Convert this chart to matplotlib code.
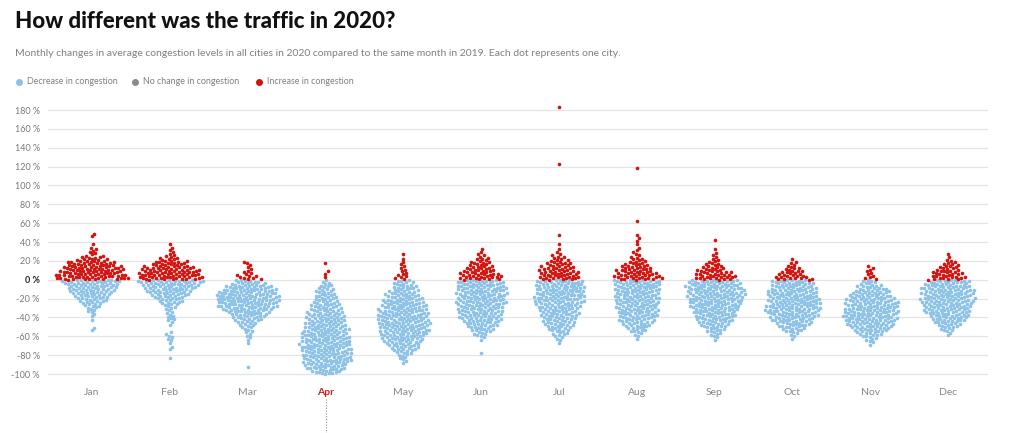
import numpy as np
import matplotlib.pyplot as plt
from matplotlib.lines import Line2D

# month labels
months = ["Jan", "Feb", "Mar", "Apr", "May", "Jun", "Jul", "Aug", "Sep", "Oct", "Nov", "Dec"]

# number of cities per 5 % bin, bins start at -100 % (index 0 = [-100, -95), index 20 = [0, 5))
bin_low = np.arange(-100, 50, 5)
jan = [0, 0, 0, 0, 0, 0, 0, 0, 0, 2, 0, 1, 2, 4, 7, 11, 14, 18, 20, 23, 29, 27, 25, 20, 11, 4, 3, 1, 0, 2]
feb = [0, 0, 0, 1, 0, 2, 1, 3, 3, 0, 1, 4, 4, 3, 6, 10, 14, 18, 22, 25, 26, 25, 21, 15, 8, 3, 2, 1, 0, 0]
mar = [0, 1, 0, 0, 0, 0, 1, 2, 3, 4, 7, 11, 15, 20, 24, 26, 26, 24, 20, 12, 8, 4, 2, 3, 0, 0, 0, 0, 0, 0]
apr = [13, 17, 19, 20, 20, 21, 21, 20, 19, 18, 17, 16, 15, 13, 12, 10, 9, 8, 6, 4, 1, 2, 0, 1, 0, 0, 0, 0, 0, 0]
may = [0, 0, 2, 4, 7, 11, 14, 17, 19, 20, 21, 21, 21, 20, 19, 17, 14, 12, 10, 8, 5, 3, 3, 2, 1, 1, 0, 0, 0, 0]
jun = [0, 0, 0, 0, 1, 0, 0, 2, 6, 10, 13, 16, 17, 18, 19, 20, 20, 20, 20, 19, 17, 15, 11, 9, 5, 3, 1, 0, 0, 0]
jul = [0, 0, 0, 0, 0, 0, 1, 3, 6, 9, 12, 13, 15, 16, 18, 19, 20, 20, 20, 19, 17, 16, 13, 10, 6, 3, 1, 1, 0, 1]
aug = [0, 0, 0, 0, 0, 0, 0, 1, 4, 8, 12, 14, 16, 17, 17, 18, 18, 18, 19, 19, 19, 16, 13, 9, 5, 3, 2, 1, 2, 1]
sep = [0, 0, 0, 0, 0, 0, 0, 2, 5, 8, 12, 15, 17, 19, 21, 22, 23, 23, 23, 21, 17, 14, 10, 6, 3, 2, 1, 0, 1, 0]
oct_ = [0, 0, 0, 0, 0, 0, 0, 1, 4, 9, 14, 17, 20, 22, 22, 22, 21, 20, 18, 17, 14, 10, 6, 3, 1, 0, 0, 0, 0, 0]
nov = [0, 0, 0, 0, 0, 0, 2, 5, 10, 15, 19, 21, 22, 22, 21, 20, 18, 15, 11, 7, 4, 3, 3, 0, 0, 0, 0, 0, 0, 0]
dec = [0, 0, 0, 0, 0, 0, 0, 0, 2, 6, 10, 14, 17, 19, 20, 21, 21, 21, 20, 18, 14, 12, 9, 6, 2, 1, 0, 0, 0, 0]
month_counts = [jan, feb, mar, apr, may, jun, jul, aug, sep, oct_, nov, dec]

# single cities far above the rest
outlier_month = [6, 6, 7, 7]
outlier_value = [123, 183, 62, 119]

yticks = list(range(-100, 181, 20))

BLUE = "#8cc2e8"
RED = "#d2140f"
GREY = "#8a8a8a"
FONT = ["Lato", "DejaVu Sans"]

# pixel scales of the plot area and the dot spacing of the swarm
PX_MONTH = 77.8
PX_PCT = 0.943
DOT = 3.4


def swarm(vals, d):
    # place dots in value order at the free x closest to the centre line
    yv = np.asarray(vals, float) * PX_PCT
    out = np.zeros(len(yv))
    px, py = [], []
    for idx in np.argsort(yv, kind="stable"):
        y = yv[idx]
        x = 0.0
        if px:
            ax_ = np.array(px)
            ay_ = np.array(py)
            near = np.abs(ay_ - y) < d
            nx, dy = ax_[near], y - ay_[near]
            if len(nx):
                off = np.sqrt(d * d - dy * dy)
                cands = np.concatenate([[0.0], nx + off, nx - off])
                cands = cands[np.argsort(np.abs(cands), kind="stable")]
                d2 = (cands[:, None] - nx[None, :]) ** 2 + dy[None, :] ** 2
                ok = np.all(d2 >= d * d - 1e-6, axis=1)
                x = cands[np.argmax(ok)]
        out[idx] = x
        px.append(x)
        py.append(y)
    return out


xs, ys = [], []
for m, counts in enumerate(month_counts):
    vals = []
    for lo, n in zip(bin_low, counts):
        vals += [lo + (j + 0.5) * 5 / n for j in range(n)]
    vals += [v for om, v in zip(outlier_month, outlier_value) if om == m]
    dx = swarm(vals, DOT)
    xs += list(m + dx / PX_MONTH)
    ys += vals
xs = np.array(xs)
ys = np.array(ys)

fig = plt.figure(figsize=(10.24, 4.33), dpi=100)
ax = fig.add_axes([48 / 1024, 0.1275, 940 / 1024, 0.6293])
ax.set_xlim(-0.566, 11.514)
ax.set_ylim(-104, 185)

for v in yticks:
    ax.axhline(v, color="#e4e4e4", lw=0.9, zorder=0)

neg = ys < 0
ax.scatter(xs[neg], ys[neg], s=6.8, color=BLUE, linewidths=0, zorder=2)
ax.scatter(xs[~neg], ys[~neg], s=6.8, color=RED, linewidths=0, zorder=3)

for sp in ax.spines.values():
    sp.set_visible(False)
ax.tick_params(length=0)
ax.set_yticks(yticks)
ax.set_yticklabels([f"{v} %" for v in yticks], family=FONT, fontsize=6.5, color="#7a7a7a")
ax.tick_params(axis="y", pad=6)
for lab in ax.get_yticklabels():
    if lab.get_text() == "0 %":
        lab.set_fontweight("bold")
        lab.set_color("#222222")
ax.set_xticks(range(12))
ax.set_xticklabels(months, family=FONT, fontsize=7.5, color="#888888")
ax.tick_params(axis="x", pad=7)
apr_lab = ax.get_xticklabels()[3]
apr_lab.set_color("#c0231d")
apr_lab.set_fontweight("bold")

# dotted marker under April
fig.add_artist(Line2D([326 / 1024, 326 / 1024], [1 - 399 / 433, 0], transform=fig.transFigure,
                      color="#888888", lw=0.8, ls=(0, (1, 1.5))))

fig.text(15 / 1024, 1 - 22 / 433, "How different was the traffic in 2020?", family=FONT,
         fontweight="black", fontsize=16, color="#111111", va="center")
fig.text(15 / 1024, 1 - 54 / 433,
         "Monthly changes in average congestion levels in all cities in 2020 compared to the same month in 2019. "
         "Each dot represents one city.", family=FONT, fontsize=7.5, color="#808080", va="center")

legend = [("Decrease in congestion", BLUE, 19), ("No change in congestion", GREY, 135),
          ("Increase in congestion", RED, 259)]
for text, col, x0 in legend:
    fig.add_artist(Line2D([x0 / 1024], [1 - 82 / 433], transform=fig.transFigure, marker="o",
                          markersize=4, color=col, lw=0))
    fig.text((x0 + 8) / 1024, 1 - 82 / 433, text, family=FONT, fontsize=6.4, color="#808080", va="center")

fig.savefig("out.png", dpi=100, facecolor="white")
